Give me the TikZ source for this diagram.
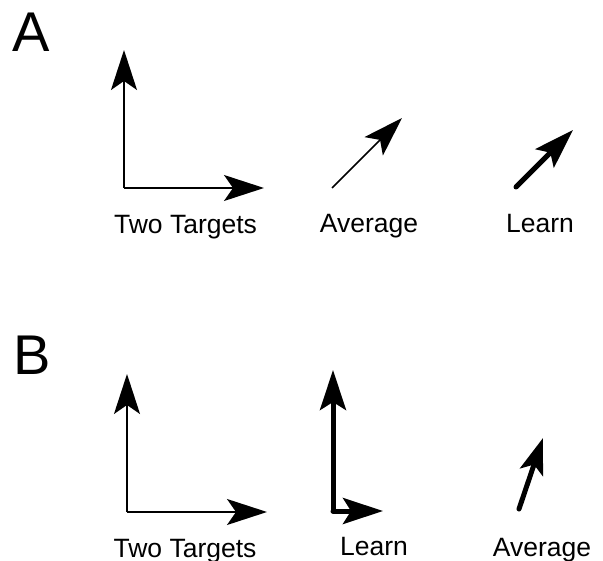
\documentclass[tikz,border=0pt]{standalone}
\usepackage{fontspec}
\setmainfont{Liberation Sans}
\usetikzlibrary{arrows.meta}
\tikzset{
  thinvec/.style={line width=1.6pt, -{Stealth[length=40pt, width=26pt, inset=9pt]}},
  thickvec/.style={line width=5pt, line cap=round, -{Stealth[length=40pt, width=26pt, inset=8pt]}},
  lbl/.style={anchor=base, inner sep=0pt, font=\fontsize{26.5}{30}\selectfont},
  panel/.style={anchor=base west, inner sep=0pt, font=\fontsize{56}{60}\selectfont}
}
\begin{document}
\begin{tikzpicture}[x=1pt, y=-1pt]
\useasboundingbox (0,0) rectangle (603,561);
% Panel A
\node[panel] (pA) at (12,52) {A};
\coordinate (tA0) at (124,188);
\coordinate (tA1) at (124,50);
\coordinate (tA2) at (264,188);
\draw[thinvec] (tA0) -- (tA1);
\draw[thinvec] (tA0) -- (tA2);
\node[lbl] (twoA) at (185.5,234) {Two Targets};
\coordinate (avA0) at (332,188);
\coordinate (avA1) at (402,118);
\draw[thinvec] (avA0) -- (avA1);
\node[lbl] (avgA) at (369,233) {Average};
\coordinate (leA0) at (516,187);
\coordinate (leA1) at (573,130);
\draw[thickvec] (leA0) -- (leA1);
\node[lbl] (lrnA) at (540,233) {Learn};
% Panel B
\node[panel] (pB) at (13,375) {B};
\coordinate (tB0) at (127,512);
\coordinate (tB1) at (127,374);
\coordinate (tB2) at (267,512);
\draw[thinvec] (tB0) -- (tB1);
\draw[thinvec] (tB0) -- (tB2);
\node[lbl] (twoB) at (185,557) {Two Targets};
\coordinate (leB0) at (333,511);
\coordinate (leB1) at (333,370);
\coordinate (leB2) at (383,511);
\draw[thickvec] (leB0) -- (leB1);
\draw[thickvec] (leB0) -- (leB2);
\node[lbl] (lrnB) at (374,555) {Learn};
\coordinate (avB0) at (519,509);
\coordinate (avB1) at (543,438);
\draw[line width=5pt, line cap=round, -{Stealth[length=36pt, width=24pt, inset=8pt]}] (avB0) -- (avB1);
\node[lbl] (avgB) at (542,556) {Average};
\end{tikzpicture}
\end{document}
